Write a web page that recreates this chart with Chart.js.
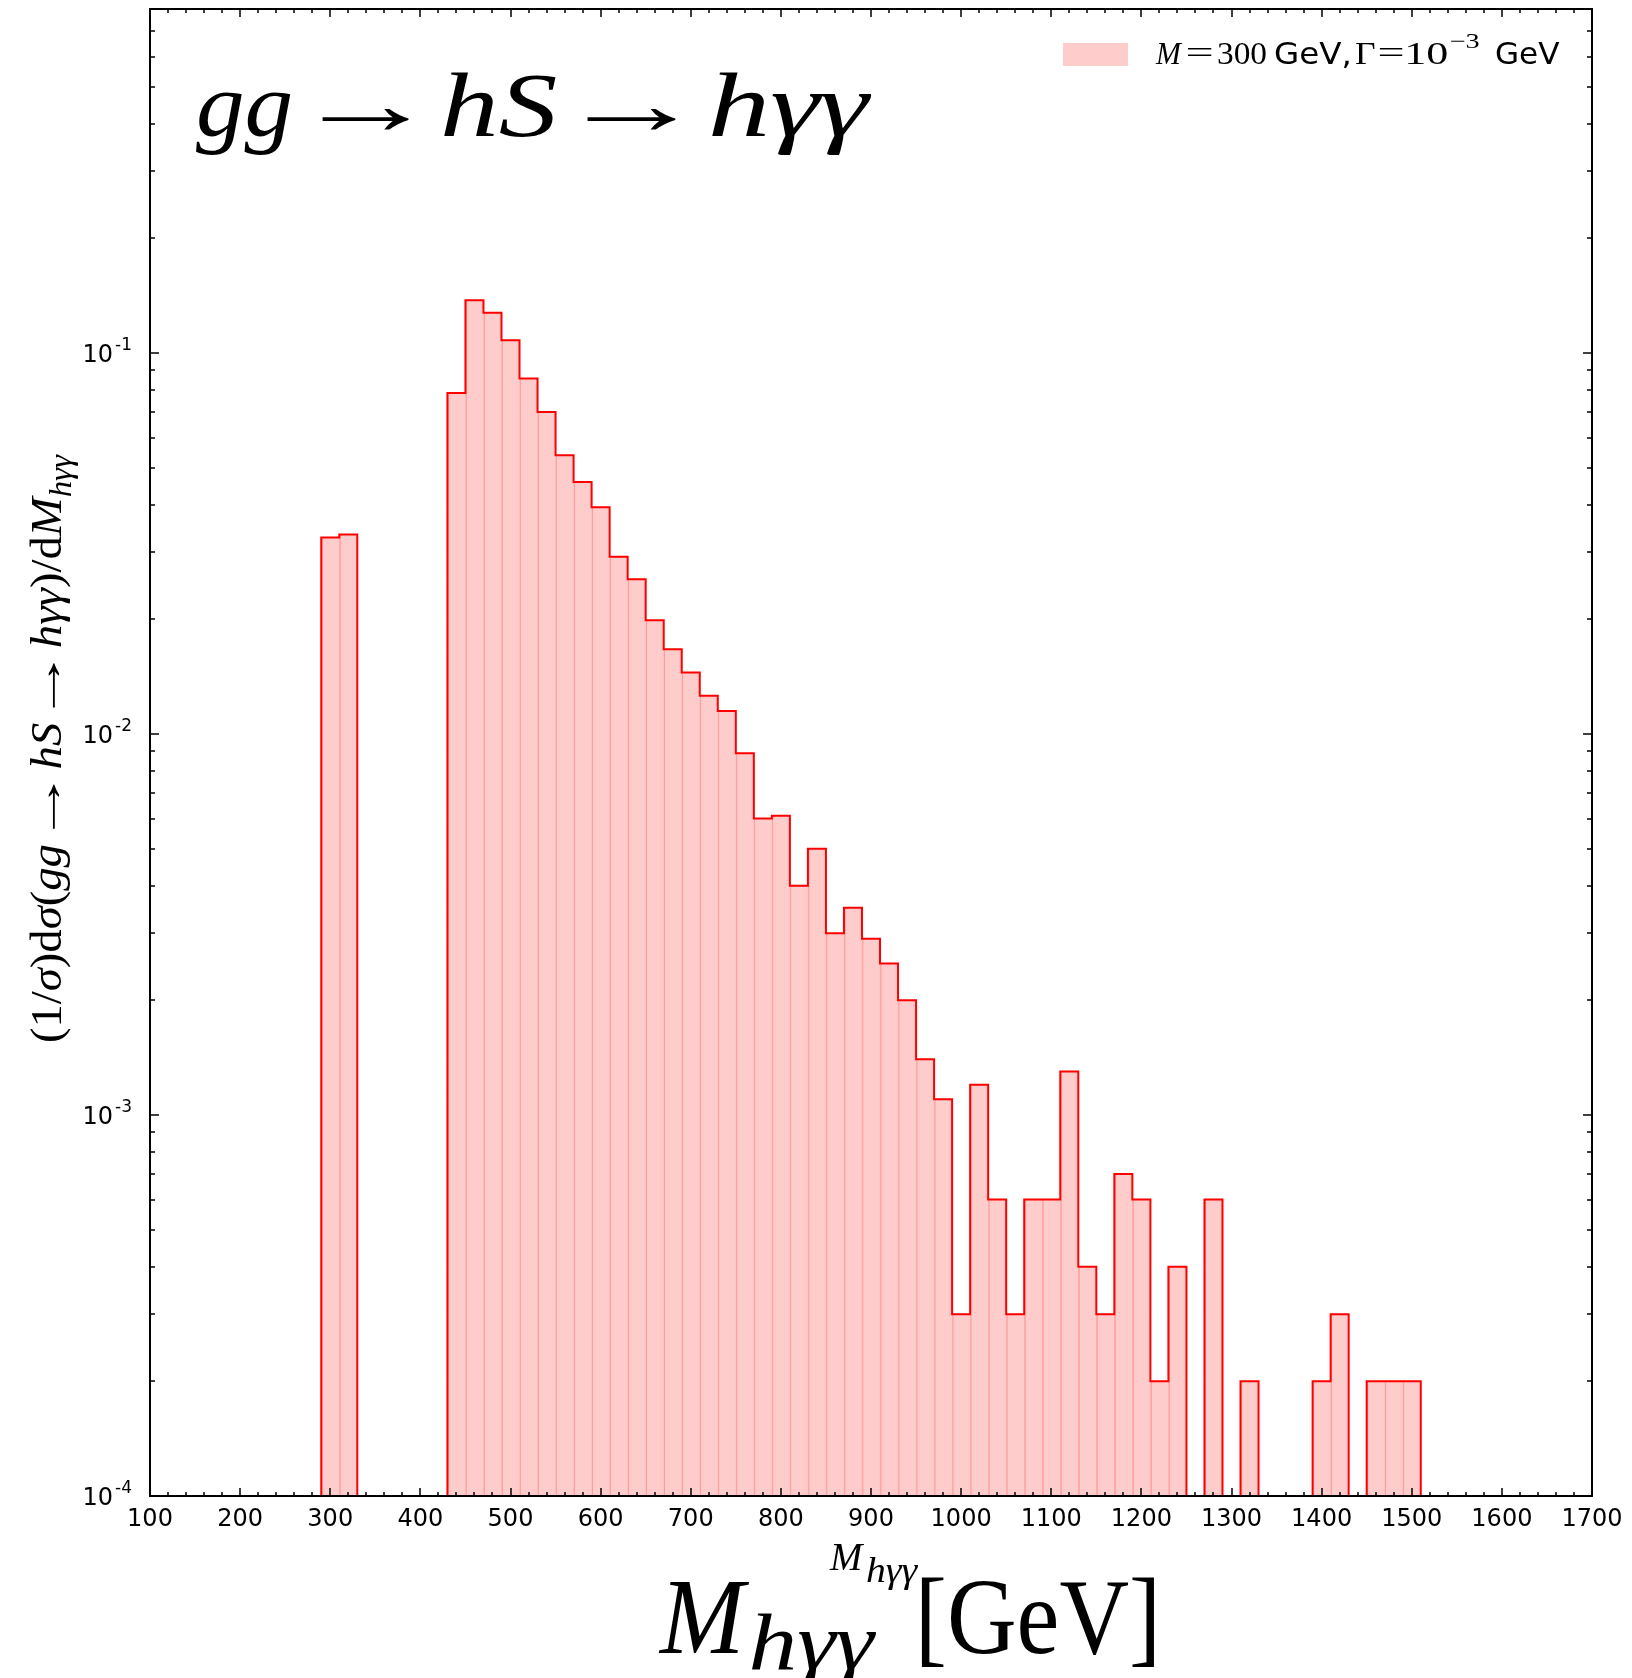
<!DOCTYPE html>
<html>
<head>
<meta charset="utf-8">
<title>M_hγγ distribution</title>
<script src="https://cdn.jsdelivr.net/npm/chart.js@4.4.1/dist/chart.umd.min.js"></script>
<style>
  html, body { margin: 0; padding: 0; background: #ffffff; }
  #wrap { width: 1632px; height: 1678px; position: relative; }
</style>
</head>
<body>
<div id="wrap"><canvas id="chart"></canvas></div>
<script>
// Histogram bins: left edges in GeV, each bin 20 GeV wide
const binLeftEdges = [
  290, 310, 330, 350, 370, 390, 410, 430, 450, 470,
  490, 510, 530, 550, 570, 590, 610, 630, 650, 670,
  690, 710, 730, 750, 770, 790, 810, 830, 850, 870,
  890, 910, 930, 950, 970, 990, 1010, 1030, 1050, 1070,
  1090, 1110, 1130, 1150, 1170, 1190, 1210, 1230, 1250, 1270,
  1290, 1310, 1330, 1350, 1370, 1390, 1410, 1430, 1450, 1470,
  1490
];
const binWidth = 20;

// Normalised differential cross section per bin (0 = empty bin)
const density = [
  0.0328, 0.0334, 0, 0, 0, 0, 0, 0.0785, 0.1377, 0.1276,
  0.1080, 0.0858, 0.0700, 0.0539, 0.0459, 0.0394, 0.0292, 0.0255, 0.0199, 0.0167,
  0.0145, 0.0126, 0.0115, 0.0089, 0.0060, 0.0061, 0.0040, 0.0050, 0.0030, 0.0035,
  0.0029, 0.0025, 0.0020, 0.0014, 0.0011, 0.0003, 0.0012, 0.0006, 0.0003, 0.0006,
  0.0006, 0.0013, 0.0004, 0.0003, 0.0007, 0.0006, 0.0002, 0.0004, 0, 0.0006,
  0, 0.0002, 0, 0, 0, 0.0002, 0.0003, 0, 0.0002, 0.0002,
  0.0002
];

// Axis ticks
const xTicks = [100, 200, 300, 400, 500, 600, 700, 800, 900, 1000, 1100, 1200, 1300, 1400, 1500, 1600, 1700];
const xMinorPerMajor = 5;
const yDecades = [1e-4, 1e-3, 1e-2, 1e-1];
const yDecadeExponents = ['-4', '-3', '-2', '-1'];
const yMin = 1e-4;
const yMax = 0.8;

const seriesLabel = 'M=300 GeV, Γ=10^-3 GeV';

const SERIF = '"Liberation Serif", "DejaVu Serif", serif';
const SANS = '"DejaVu Sans", sans-serif';
const fnt = (style, size, fam) => `${style} ${size}px ${fam}`;

// Bar centres for the filled histogram
const barPoints = binLeftEdges.map((lo, i) => ({ x: lo + binWidth / 2, y: density[i] > 0 ? density[i] : null }));

// Step outline: starts and ends on the axis floor, empty bins drop to the floor
const outlinePoints = [{ x: binLeftEdges[0], y: yMin }];
binLeftEdges.forEach((lo, i) => outlinePoints.push({ x: lo, y: density[i] > 0 ? density[i] : yMin }));
outlinePoints.push({ x: binLeftEdges[binLeftEdges.length - 1] + binWidth, y: yMin });

// Draw a sequence of styled text runs left to right (optional horizontal stretch sx); returns total width
function drawRuns(ctx, runs, x, y, measureOnly) {
  let cx = x;
  for (const r of runs) {
    ctx.font = r.font;
    const sx = r.sx || 1;
    cx += (r.dx || 0);
    if (!measureOnly) {
      ctx.save();
      ctx.translate(cx, y + (r.dy || 0));
      ctx.scale(sx, 1);
      ctx.fillText(r.text, 0, 0);
      ctx.restore();
    }
    cx += ctx.measureText(r.text).width * sx;
  }
  return cx - x;
}

// Draw a text whose inked extent spans horizontally from x0 to x1
function drawSpan(ctx, text, font, x0, x1, y) {
  ctx.font = font;
  const m = ctx.measureText(text);
  const l = m.actualBoundingBoxLeft, r = m.actualBoundingBoxRight;
  const s = (x1 - x0) / (l + r);
  ctx.save();
  ctx.translate(x0 + l * s, y);
  ctx.scale(s, 1);
  ctx.fillText(text, 0, 0);
  ctx.restore();
}

const frameAndTicks = {
  id: 'frameAndTicks',
  afterDatasetsDraw(chart) {
    const { ctx, chartArea: a, scales: { x, y } } = chart;
    ctx.save();
    ctx.strokeStyle = '#000000';
    ctx.lineWidth = 1.5;
    ctx.beginPath();
    // x ticks (inward, bottom and top)
    for (let i = 0; i < xTicks.length; i++) {
      const v0 = xTicks[i];
      const px = Math.round(x.getPixelForValue(v0));
      ctx.moveTo(px, a.bottom); ctx.lineTo(px, a.bottom - 8);
      ctx.moveTo(px, a.top); ctx.lineTo(px, a.top + 8);
      if (i < xTicks.length - 1) {
        const step = (xTicks[i + 1] - v0) / xMinorPerMajor;
        for (let k = 1; k < xMinorPerMajor; k++) {
          const pm = Math.round(x.getPixelForValue(v0 + k * step));
          ctx.moveTo(pm, a.bottom); ctx.lineTo(pm, a.bottom - 4);
          ctx.moveTo(pm, a.top); ctx.lineTo(pm, a.top + 4);
        }
      }
    }
    // y ticks (inward, left and right)
    for (const d of yDecades) {
      const py = Math.round(y.getPixelForValue(d));
      ctx.moveTo(a.left, py); ctx.lineTo(a.left + 9, py);
      ctx.moveTo(a.right, py); ctx.lineTo(a.right - 9, py);
      for (let k = 2; k <= 9; k++) {
        const v = k * d;
        if (v > yMax) break;
        const pm = Math.round(y.getPixelForValue(v));
        ctx.moveTo(a.left, pm); ctx.lineTo(a.left + 5, pm);
        ctx.moveTo(a.right, pm); ctx.lineTo(a.right - 5, pm);
      }
    }
    ctx.stroke();
    // frame
    ctx.lineWidth = 2;
    ctx.strokeRect(a.left, a.top, a.right - a.left, a.bottom - a.top);
    ctx.restore();
  },
  afterDraw(chart) {
    const { ctx, chartArea: a, scales: { y } } = chart;
    ctx.save();
    ctx.fillStyle = '#000000';
    ctx.textBaseline = 'alphabetic';
    ctx.textAlign = 'left';

    // y tick labels 10^n
    yDecades.forEach((d, i) => {
      const py = y.getPixelForValue(d);
      ctx.font = fnt('normal', 17, SANS);
      const wSup = ctx.measureText(yDecadeExponents[i]).width;
      ctx.font = fnt('normal', 24, SANS);
      const wBase = ctx.measureText('10').width;
      const right = a.left - 18;
      ctx.fillText('10', right - wSup - 2 - wBase, py + 9);
      ctx.font = fnt('normal', 17, SANS);
      ctx.fillText(yDecadeExponents[i], right - wSup, py - 3);
    });

    // process annotation inside the axes
    const tf = fnt('italic', 90, SERIF);
    const tr = fnt('normal', 88, SERIF);
    const base = 136;
    drawSpan(ctx, 'gg', tf, 196, 291, base);
    drawSpan(ctx, '→', tr, 321, 410, base - 2);
    drawSpan(ctx, 'hS', tf, 444, 556, base);
    drawSpan(ctx, '→', tr, 586, 677, base - 2);
    drawSpan(ctx, 'hγγ', tf, 712, 872, base);

    // legend
    const ds = chart.data.datasets[0];
    ctx.fillStyle = ds.backgroundColor;
    ctx.fillRect(1063, 43, 65, 23);
    ctx.fillStyle = '#000000';
    const lb = 64;
    const ls = fnt('normal', 32, SERIF), li = fnt('italic', 32, SERIF), lsans = fnt('normal', 30, SANS);
    drawSpan(ctx, 'M', li, 1155, 1183, lb);
    drawSpan(ctx, '=', ls, 1187, 1212, lb - 1);
    drawSpan(ctx, '300', ls, 1218, 1266, lb);
    drawSpan(ctx, 'GeV,', lsans, 1275, 1349, lb);
    drawSpan(ctx, 'Γ', ls, 1355, 1375, lb);
    drawSpan(ctx, '=', ls, 1379, 1403, lb - 1);
    drawSpan(ctx, '10', ls, 1407, 1447, lb);
    drawSpan(ctx, '−3', fnt('normal', 21, SERIF), 1451, 1479, lb - 16);
    drawSpan(ctx, 'GeV', lsans, 1496, 1560, lb);

    // y axis title (rotated)
    const ys = 44;
    const yi = fnt('italic', ys, SERIF), yr = fnt('normal', ys, SERIF), ysub = fnt('italic', Math.round(ys * 0.7), SERIF);
    const yRuns = [
      { text: '(1/', font: yr }, { text: 'σ', font: yi }, { text: ')d', font: yr }, { text: 'σ', font: yi },
      { text: '(', font: yr }, { text: 'gg', font: yi }, { text: '→', font: yr, sx: 1.6 }, { text: 'hS', font: yi },
      { text: '→', font: yr, sx: 1.6 }, { text: 'hγγ', font: yi }, { text: ')/d', font: yr }, { text: 'M', font: yi },
      { text: 'hγγ', font: ysub, dy: 10 }
    ];
    const yw = drawRuns(ctx, yRuns, 0, 0, true);
    const yLen = 588;
    ctx.save();
    ctx.translate(61, 749);
    ctx.rotate(-Math.PI / 2);
    ctx.scale(yLen / yw, 1);
    drawRuns(ctx, yRuns, -yw / 2, 0);
    ctx.restore();

    // x axis titles
    drawSpan(ctx, 'M', fnt('italic', 41, SERIF), 829, 865, 1570);
    drawSpan(ctx, 'hγγ', fnt('italic', 36, SERIF), 867, 918, 1582);
    drawSpan(ctx, 'M', fnt('italic', 108, SERIF), 658, 749, 1653);
    drawSpan(ctx, 'hγγ', fnt('italic', 80, SERIF), 751, 877, 1669);
    drawSpan(ctx, '[GeV]', fnt('normal', 108, SERIF), 922, 1154, 1653);

    ctx.restore();
  }
};

new Chart(document.getElementById('chart'), {
  type: 'bar',
  data: {
    datasets: [
      {
        type: 'bar',
        label: seriesLabel,
        data: barPoints,
        backgroundColor: 'rgba(255, 0, 0, 0.2)',
        borderColor: 'rgba(255, 0, 0, 0.3)',
        borderWidth: { left: 1, right: 0, top: 0, bottom: 0 },
        borderSkipped: false,
        barPercentage: 1.0,
        categoryPercentage: 1.0,
        order: 1
      },
      {
        type: 'line',
        label: 'outline',
        data: outlinePoints,
        borderColor: 'rgb(255, 0, 0)',
        borderWidth: 2,
        stepped: 'before',
        pointRadius: 0,
        fill: false,
        tension: 0,
        order: 0
      }
    ]
  },
  options: {
    responsive: true,
    maintainAspectRatio: false,
    animation: false,
    layout: { padding: { top: 9, right: 40, left: 0, bottom: 0 } },
    plugins: { legend: { display: false }, tooltip: { enabled: false }, title: { display: false } },
    scales: {
      x: {
        type: 'linear',
        min: xTicks[0],
        max: xTicks[xTicks.length - 1],
        offset: false,
        grid: { display: false, drawTicks: false },
        border: { display: false },
        afterBuildTicks: (s) => { s.ticks = xTicks.map(v => ({ value: v })); },
        ticks: {
          autoSkip: false,
          maxRotation: 0,
          padding: 9,
          color: '#000000',
          font: { family: '"DejaVu Sans", sans-serif', size: 24 },
          callback: (v) => String(v)
        },
        afterFit: (s) => { s.height = 182; }
      },
      y: {
        type: 'logarithmic',
        min: yMin,
        max: yMax,
        grid: { display: false, drawTicks: false },
        border: { display: false },
        ticks: { display: false },
        afterFit: (s) => { s.width = 150; }
      }
    }
  },
  plugins: [frameAndTicks]
});
</script>
</body>
</html>
